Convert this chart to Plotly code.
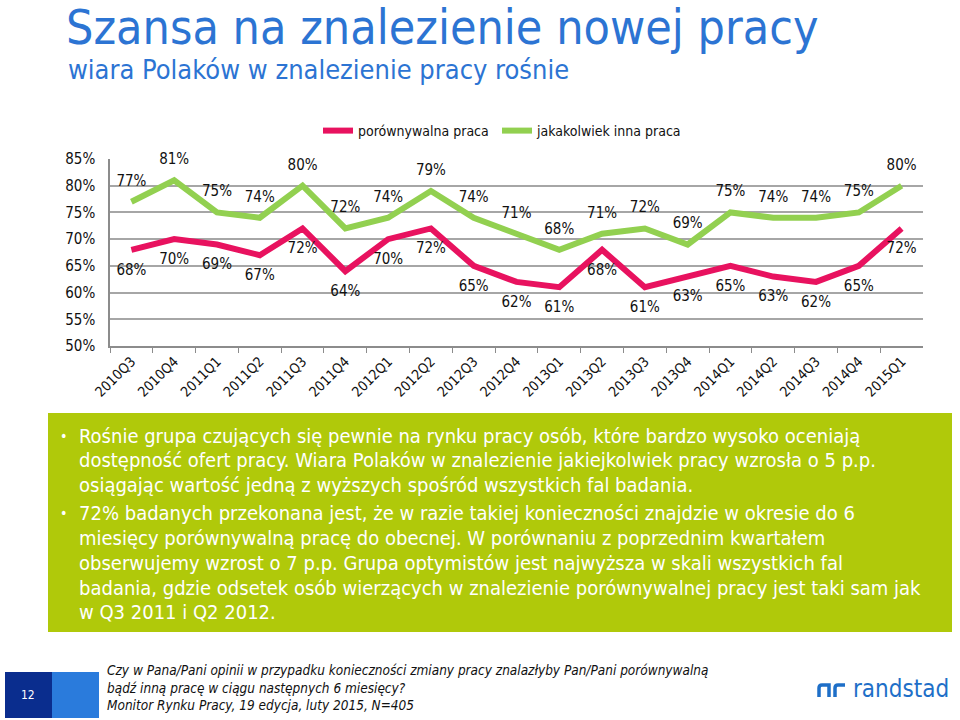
import plotly.graph_objects as go

quarters = ["2010Q3", "2010Q4", "2011Q1", "2011Q2", "2011Q3", "2011Q4", "2012Q1", "2012Q2",
            "2012Q3", "2012Q4", "2013Q1", "2013Q2", "2013Q3", "2013Q4", "2014Q1", "2014Q2",
            "2014Q3", "2014Q4", "2015Q1"]
porownywalna = [68, 70, 69, 67, 72, 64, 70, 72, 65, 62, 61, 68, 61, 63, 65, 63, 62, 65, 72]
jakakolwiek = [77, 81, 75, 74, 80, 72, 74, 79, 74, 71, 68, 71, 72, 69, 75, 74, 74, 75, 80]
y_ticks = [50, 55, 60, 65, 70, 75, 80, 85]

title = "Szansa na znalezienie nowej pracy"
subtitle = "wiara Polaków w znalezienie pracy rośnie"
box_lines = [
    ("• ", "Rośnie grupa czujących się pewnie na rynku pracy osób, które bardzo wysoko oceniają"),
    ("", "dostępność ofert pracy. Wiara Polaków w znalezienie jakiejkolwiek pracy wzrosła o 5 p.p."),
    ("", "osiągając wartość jedną z wyższych spośród wszystkich fal badania."),
    ("• ", "72% badanych przekonana jest, że w razie takiej konieczności znajdzie w okresie do 6"),
    ("", "miesięcy porównywalną pracę do obecnej. W porównaniu z poprzednim kwartałem"),
    ("", "obserwujemy wzrost o 7 p.p. Grupa optymistów jest najwyższa w skali wszystkich fal"),
    ("", "badania, gdzie odsetek osób wierzących w znalezienie porównywalnej pracy jest taki sam jak"),
    ("", "w Q3 2011 i Q2 2012."),
]
footer_lines = [
    "Czy w Pana/Pani opinii w przypadku konieczności zmiany pracy znalazłyby Pan/Pani porównywalną",
    "bądź inną pracę w ciągu następnych 6 miesięcy?",
    "Monitor Rynku Pracy, 19 edycja, luty 2015, N=405",
]

W, H = 960, 720
FONT = "DejaVu Sans Condensed, DejaVu Sans, sans-serif"
PINK = "#E8125F"
GREEN = "#92D050"
BLUE = "#2C74D3"
CLEAR = "rgba(0,0,0,0)"


def px(x):
    return x / W


def py(y):
    return 1 - y / H


fig = go.Figure()
fig.add_trace(go.Scatter(
    x=quarters, y=porownywalna, name="porównywalna praca", mode="lines+markers+text",
    line=dict(color=PINK, width=6), marker=dict(size=20, color=CLEAR, line=dict(width=0)),
    text=[f"{v}%" for v in porownywalna], textposition="bottom center",
    textfont=dict(size=15, color="#111111", family=FONT), cliponaxis=False,
    legend="legend", hoverinfo="skip",
))
fig.add_trace(go.Scatter(
    x=quarters, y=jakakolwiek, name="jakakolwiek inna praca", mode="lines+markers+text",
    line=dict(color=GREEN, width=6), marker=dict(size=18, color=CLEAR, line=dict(width=0)),
    text=[f"{v}%" for v in jakakolwiek], textposition="top center",
    textfont=dict(size=15, color="#111111", family=FONT), cliponaxis=False,
    legend="legend2", hoverinfo="skip",
))

leg_common = dict(orientation="h", yanchor="middle", y=py(131), xanchor="left",
                  font=dict(size=14, family=FONT), itemwidth=30, bgcolor=CLEAR)

fig.update_layout(
    width=W, height=H, margin=dict(l=0, r=0, t=0, b=0, autoexpand=False),
    paper_bgcolor="white", plot_bgcolor="white",
    font=dict(family=FONT, color="#111111"),
    showlegend=True,
    legend=dict(x=px(318), **leg_common),
    legend2=dict(x=px(497), **leg_common),
    xaxis=dict(domain=[px(110), px(923)], type="category", range=[-0.5, 18.5], automargin=False,
               tickangle=-45, tickfont=dict(size=14, family=FONT), showgrid=False,
               showline=True, linecolor="#8C8C8C", linewidth=1.5,
               ticks="outside", tickson="boundaries", ticklen=5, tickcolor="#8C8C8C"),
    yaxis=dict(domain=[py(346), py(159)], range=[50, 85], tickvals=y_ticks, automargin=False,
               ticktext=[f"{v}%" for v in y_ticks], tickfont=dict(size=15, family=FONT),
               ticklabelstandoff=10,
               showgrid=True, gridcolor="#A6A6A6", gridwidth=1.5, zeroline=False,
               showline=True, linecolor="#8C8C8C", linewidth=1.5, ticks=""),
)

ann = []
ann.append(dict(x=px(64), y=py(27), xref="paper", yref="paper", text=title, showarrow=False,
                xanchor="left", yanchor="middle", font=dict(size=48, color=BLUE, family=FONT)))
ann.append(dict(x=px(66), y=py(70), xref="paper", yref="paper", text=subtitle, showarrow=False,
                xanchor="left", yanchor="middle", font=dict(size=27, color=BLUE, family=FONT)))

shapes = [dict(type="rect", xref="paper", yref="paper", x0=px(48), x1=px(952), y0=py(632), y1=py(413),
               fillcolor="#B0C90A", line=dict(width=0), layer="below")]

line_y = [436, 460, 485, 513, 538, 563, 588, 612]
for (bullet, txt), yy in zip(box_lines, line_y):
    if bullet:
        ann.append(dict(x=px(58), y=py(yy), xref="paper", yref="paper", text="•", showarrow=False,
                        xanchor="left", yanchor="middle", font=dict(size=14, color="white", family=FONT)))
    ann.append(dict(x=px(77), y=py(yy), xref="paper", yref="paper", text=txt, showarrow=False,
                    xanchor="left", yanchor="middle", font=dict(size=20, color="white", family=FONT)))

# footer
shapes.append(dict(type="rect", xref="paper", yref="paper", x0=px(5), x1=px(52), y0=py(718), y1=py(672),
                   fillcolor="#0A2D8E", line=dict(width=0)))
shapes.append(dict(type="rect", xref="paper", yref="paper", x0=px(52), x1=px(99), y0=py(718), y1=py(672),
                   fillcolor="#2A7BDC", line=dict(width=0)))
ann.append(dict(x=px(28), y=py(695), xref="paper", yref="paper", text="12", showarrow=False,
                xanchor="center", yanchor="middle", font=dict(size=12, color="white", family=FONT)))
for txt, yy in zip(footer_lines, [670, 688, 705]):
    ann.append(dict(x=px(105), y=py(yy), xref="paper", yref="paper", text=f"<i>{txt}</i>", showarrow=False,
                    xanchor="left", yanchor="middle", font=dict(size=13.5, color="#111111", family=FONT)))

# randstad logo
LOGO = "#1E6FC8"
shapes.append(dict(type="path", xref="paper", yref="paper",
                   path=f"M {px(819)},{py(697)} L {px(819)},{py(688)} Q {px(819)},{py(685)} {px(822)},{py(685)} L {px(829)},{py(685)} L {px(829)},{py(697)}",
                   line=dict(color=LOGO, width=3.5), fillcolor=CLEAR))
shapes.append(dict(type="path", xref="paper", yref="paper",
                   path=f"M {px(835)},{py(697)} L {px(835)},{py(688)} Q {px(835)},{py(685)} {px(838)},{py(685)} L {px(845)},{py(685)}",
                   line=dict(color=LOGO, width=3.5), fillcolor=CLEAR))
ann.append(dict(x=px(851), y=py(689), xref="paper", yref="paper", text="randstad", showarrow=False,
                xanchor="left", yanchor="middle", font=dict(size=24, color=LOGO, family=FONT)))

fig.update_layout(annotations=ann, shapes=shapes)
fig.write_html("out.html", config={"displayModeBar": False},
               post_script="document.body.style.margin='0';document.body.style.overflow='hidden';")
